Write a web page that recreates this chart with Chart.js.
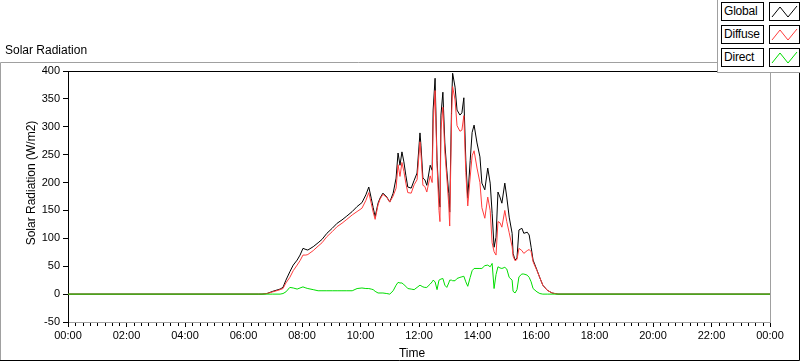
<!DOCTYPE html>
<html>
<head>
<meta charset="utf-8">
<script src="https://cdn.jsdelivr.net/npm/chart.js@4/dist/chart.umd.min.js"></script>
<style>
  body { margin: 0; background: #fff; }
  #wrap { position: relative; width: 800px; height: 361px; overflow: hidden; }
  #legend { position: absolute; left: 717px; top: 0; width: 83px; height: 73px;
            background: #fff; border-left: 1px solid #a0a0a0; border-bottom: 1px solid #a0a0a0;
            box-sizing: border-box; font: 12px "Liberation Sans", Arial, sans-serif; }
  .item { position: absolute; left: 3px; height: 19px; }
  .lbl { position: absolute; left: 0; top: 0; width: 43px; height: 19px; border: 1px solid #000;
         box-sizing: border-box; padding-left: 2px; line-height: 17px; color: #000;
         letter-spacing: -0.2px; white-space: nowrap; }
  .ico { position: absolute; left: 48px; top: 0; width: 31px; height: 19px; border: 1px solid #000;
         box-sizing: border-box; }
</style>
</head>
<body>
<div id="wrap">
  <canvas id="solarChart" width="800" height="361"></canvas>
  <div id="legend"></div>
</div>
<script>
/* ------------------------------------------------------------
   DATA
------------------------------------------------------------ */
const times = ["00:00","06:30","06:38","06:48","07:00","07:15","07:21","07:27","07:35","07:42",
  "07:50","07:56","08:02","08:08","08:12","08:23","08:33","08:41","08:51","09:02",
  "09:12","09:22","09:32","09:43","09:53","10:03","10:11","10:17","10:22","10:26",
  "10:30","10:36","10:40","10:46","10:54","11:00","11:07","11:13","11:17","11:21",
  "11:25","11:29","11:33","11:37","11:44","11:50","11:56","12:02","12:04","12:08",
  "12:12","12:16","12:23","12:27","12:29","12:33","12:37","12:41","12:43","12:45",
  "12:49","12:53","12:57","13:01","13:03","13:07","13:09","13:14","13:18","13:24",
  "13:28","13:32","13:36","13:40","13:45","13:49","13:53","13:59","14:05","14:09",
  "14:15","14:21","14:26","14:30","14:34","14:38","14:42","14:46","14:50","14:56",
  "15:00","15:05","15:11","15:13","15:17","15:21","15:25","15:31","15:35","15:42",
  "15:46","15:50","15:54","16:02","16:08","16:14","16:23","16:33","16:45","24:00"];

const globalRad = [0,0,0,1,5,9,12,25,40,52,
  61,70,82,80,79,85,92,98,109,118,
  127,133,140,148,157,164,178,192,172,155,
  139,163,172,181,174,165,181,208,253,231,
  255,237,213,192,190,204,217,289,267,208,
  205,195,231,222,330,387,240,174,156,321,
  362,271,222,180,147,348,396,371,330,321,
  325,352,240,172,240,290,303,271,246,199,
  187,226,199,145,84,102,183,174,163,199,
  174,138,109,73,61,65,115,118,109,111,
  106,84,61,43,29,16,7,2,0,0];

const diffuseRad = [0,0,0,1,4,8,10,20,30,42,
  52,60,70,70,71,78,86,92,103,112,
  121,127,134,142,148,154,168,182,163,147,
  134,160,170,179,173,165,176,190,232,211,
  236,220,199,182,181,196,205,273,252,195,
  193,183,212,200,305,365,232,150,130,294,
  335,255,210,160,122,324,372,348,302,292,
  294,320,218,158,210,248,257,226,200,155,
  136,174,150,92,76,70,130,128,120,150,
  130,110,85,68,60,62,82,78,73,78,
  80,76,58,42,29,16,7,2,0,0];

const directRad = [0,0,0,0,0,0,1,4,12,11,
  9,11,13,11,10,8,6,6,6,6,
  6,6,6,6,10,11,10,10,9,8,
  5,2,2,2,1,0,6,16,21,20,
  20,17,14,10,9,8,12,16,15,13,
  12,12,18,22,25,22,8,25,26,27,
  28,16,12,20,25,25,24,24,28,30,
  31,32,22,14,30,42,46,46,46,46,
  51,52,49,55,10,35,49,47,46,48,
  45,30,25,5,2,8,31,36,36,34,
  30,22,10,4,1,0,0,0,0,0];

const seriesNames = ["Global", "Diffuse", "Direct"];
const seriesColors = ["#000000", "#ff3c3c", "#00dd00"];

/* ------------------------------------------------------------
   HELPERS
------------------------------------------------------------ */
function toHours(t) {
    const p = t.split(":");
    return Number(p[0]) + Number(p[1]) / 60;
}

function points(values) {
    return values.map((v, i) => ({ x: toHours(times[i]), y: v }));
}

function hhmm(h) {
    const hh = Math.round(h) % 24;
    return (hh < 10 ? "0" : "") + hh + ":00";
}

/* ------------------------------------------------------------
   LEGEND (LabVIEW style plot legend, top right)
------------------------------------------------------------ */
const legend = document.getElementById("legend");
seriesNames.forEach((name, i) => {
    const item = document.createElement("div");
    item.className = "item";
    item.style.top = (2 + i * 23) + "px";
    item.innerHTML = `
        <div class="lbl">${name}</div>
        <div class="ico"><svg width="29" height="17">
            <polyline points="2,14 10,4 18,14 27,3" fill="none"
                stroke="${seriesColors[i]}" stroke-width="1"/>
        </svg></div>`;
    legend.appendChild(item);
});

/* ------------------------------------------------------------
   FRAME, TITLES AND MINOR TICKS
------------------------------------------------------------ */
const framePlugin = {
    id: "frame",
    afterDraw(chart) {
        const ctx = chart.ctx;
        const a = chart.chartArea;
        const xs = chart.scales.x;
        ctx.save();

        // outer panel frame
        ctx.strokeStyle = "#a0a0a0";
        ctx.lineWidth = 1;
        ctx.beginPath();
        ctx.moveTo(0.5, 361);
        ctx.lineTo(0.5, 62.5);
        ctx.lineTo(717, 62.5);
        ctx.stroke();
        ctx.strokeStyle = "#000";
        ctx.beginPath();
        ctx.moveTo(0, 360.5);
        ctx.lineTo(799.5, 360.5);
        ctx.lineTo(799.5, 72);
        ctx.stroke();

        // plot area: black top, grey right and bottom
        ctx.beginPath();
        ctx.moveTo(a.left, a.top + 0.5);
        ctx.lineTo(a.right, a.top + 0.5);
        ctx.stroke();
        ctx.strokeStyle = "#a0a0a0";
        ctx.beginPath();
        ctx.moveTo(a.right + 0.5, a.top);
        ctx.lineTo(a.right + 0.5, a.bottom + 1);
        ctx.stroke();

        // minor ticks every 15 minutes
        ctx.strokeStyle = "#000";
        ctx.beginPath();
        for (let q = 0; q <= 96; q++) {
            if (q % 8 === 0) continue;
            const px = Math.round(xs.getPixelForValue(q / 4)) + 0.5;
            ctx.moveTo(px, a.bottom + 1);
            ctx.lineTo(px, a.bottom + 4);
        }
        ctx.stroke();

        // titles
        ctx.fillStyle = "#000";
        ctx.font = '12px "Liberation Sans", Arial, sans-serif';
        ctx.textBaseline = "middle";
        ctx.textAlign = "left";
        ctx.fillText("Solar Radiation", 5, 51);
        ctx.textAlign = "center";
        ctx.fillText("Time", 412, 354);
        ctx.translate(32, 183);
        ctx.rotate(-Math.PI / 2);
        ctx.fillText("Solar Radiation (W/m2)", 0, 0);
        ctx.restore();
    }
};

/* ------------------------------------------------------------
   CHART
------------------------------------------------------------ */
const tickFont = { family: '"Liberation Sans", Arial, sans-serif', size: 11 };

new Chart(document.getElementById("solarChart"), {
    type: "line",
    data: {
        datasets: [
            { label: seriesNames[0], data: points(globalRad), borderColor: seriesColors[0], order: 3 },
            { label: seriesNames[1], data: points(diffuseRad), borderColor: seriesColors[1], order: 2 },
            { label: seriesNames[2], data: points(directRad), borderColor: seriesColors[2], order: 1 }
        ]
    },
    options: {
        responsive: false,
        animation: false,
        parsing: false,
        elements: {
            line: { borderWidth: 1, tension: 0 },
            point: { radius: 0 }
        },
        layout: { padding: { left: 20, top: 71, right: 30, bottom: 0 } },
        plugins: {
            legend: { display: false },
            tooltip: { enabled: false }
        },
        scales: {
            x: {
                type: "linear",
                min: 0,
                max: 24,
                afterFit: s => { s.height = 39; },
                ticks: {
                    stepSize: 2,
                    autoSkip: false,
                    maxRotation: 0,
                    color: "#000",
                    font: tickFont,
                    padding: 2,
                    callback: v => hhmm(v)
                },
                grid: { drawOnChartArea: false, tickLength: 5, color: "#000" },
                border: { color: "#a0a0a0" }
            },
            y: {
                min: -50,
                max: 400,
                afterFit: s => { s.width = 48; },
                ticks: { stepSize: 50, color: "#000", font: tickFont, padding: 3 },
                grid: { drawOnChartArea: false, tickLength: 5, color: "#000" },
                border: { color: "#000" }
            }
        }
    },
    plugins: [framePlugin]
});
</script>
</body>
</html>
